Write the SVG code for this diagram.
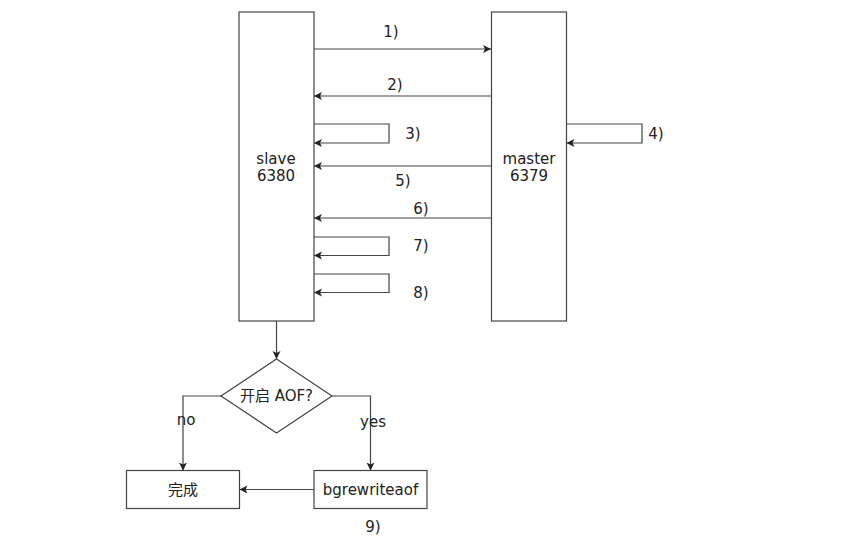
<svg xmlns="http://www.w3.org/2000/svg" width="865" height="543" viewBox="0 0 865 543">
<defs>
<marker id="arr" markerWidth="10" markerHeight="10" refX="8" refY="4" orient="auto" markerUnits="userSpaceOnUse">
<path d="M0,0 L8,4 L0,8 L2,4 Z" fill="#222"/>
</marker>
</defs>
<style>
.box{fill:#fff;stroke:#444;stroke-width:1.2}
.ln{fill:none;stroke:#444;stroke-width:1.2;marker-end:url(#arr)}
.t{font-family:"DejaVu Sans","Noto Sans CJK SC",sans-serif;font-size:15px;fill:#222;text-anchor:middle;dominant-baseline:central}
.lb{font-family:"DejaVu Sans",sans-serif;font-size:15px;fill:#222;text-anchor:middle;dominant-baseline:central}
</style>
<rect width="865" height="543" fill="#fff"/>
<g id="slave">
<rect class="box" x="239" y="12" width="75" height="309"/>
<text class="t" x="276" y="159">slave</text>
<text class="t" x="276" y="176">6380</text>
</g>
<g id="master">
<rect class="box" x="491.5" y="12" width="75" height="309"/>
<text class="t" x="529" y="159">master</text>
<text class="t" x="529" y="176">6379</text>
</g>
<g id="decision">
<polygon class="box" points="276.5,359 332,396 276.5,433 221,396"/>
<text class="t" x="276.5" y="396">开启 AOF?</text>
</g>
<g id="done">
<rect class="box" x="126.5" y="470.5" width="113" height="38"/>
<text class="t" x="183" y="489.5">完成</text>
</g>
<g id="bgrewriteaof">
<rect class="box" x="314" y="470.5" width="113" height="38"/>
<text class="t" x="370.5" y="489.5">bgrewriteaof</text>
</g>
<g id="connectors">
<path class="ln" d="M314,49 H491"/>
<path class="ln" d="M491.5,96 H314"/>
<path class="ln" d="M314,124 H389 V143 H314"/>
<path class="ln" d="M566.5,124 H642 V143 H566.5"/>
<path class="ln" d="M491.5,166 H314"/>
<path class="ln" d="M491.5,218 H314"/>
<path class="ln" d="M314,237 H389 V255.5 H314"/>
<path class="ln" d="M314,274 H389 V292.5 H314"/>
<path class="ln" d="M276.5,321 V359"/>
<path class="ln" d="M221,396 H183 V470.5"/>
<path class="ln" d="M332,396 H370.5 V470.5"/>
<path class="ln" d="M314,489.5 H239.5"/>
</g>
<g id="labels">
<text class="lb" x="391" y="32">1)</text>
<text class="lb" x="395" y="85">2)</text>
<text class="lb" x="413" y="134">3)</text>
<text class="lb" x="656" y="134">4)</text>
<text class="lb" x="403" y="181">5)</text>
<text class="lb" x="421" y="209">6)</text>
<text class="lb" x="421" y="246">7)</text>
<text class="lb" x="421" y="293">8)</text>
<text class="lb" x="186" y="420">no</text>
<text class="lb" x="373" y="422">yes</text>
<text class="lb" x="373" y="527">9)</text>
</g>
</svg>
